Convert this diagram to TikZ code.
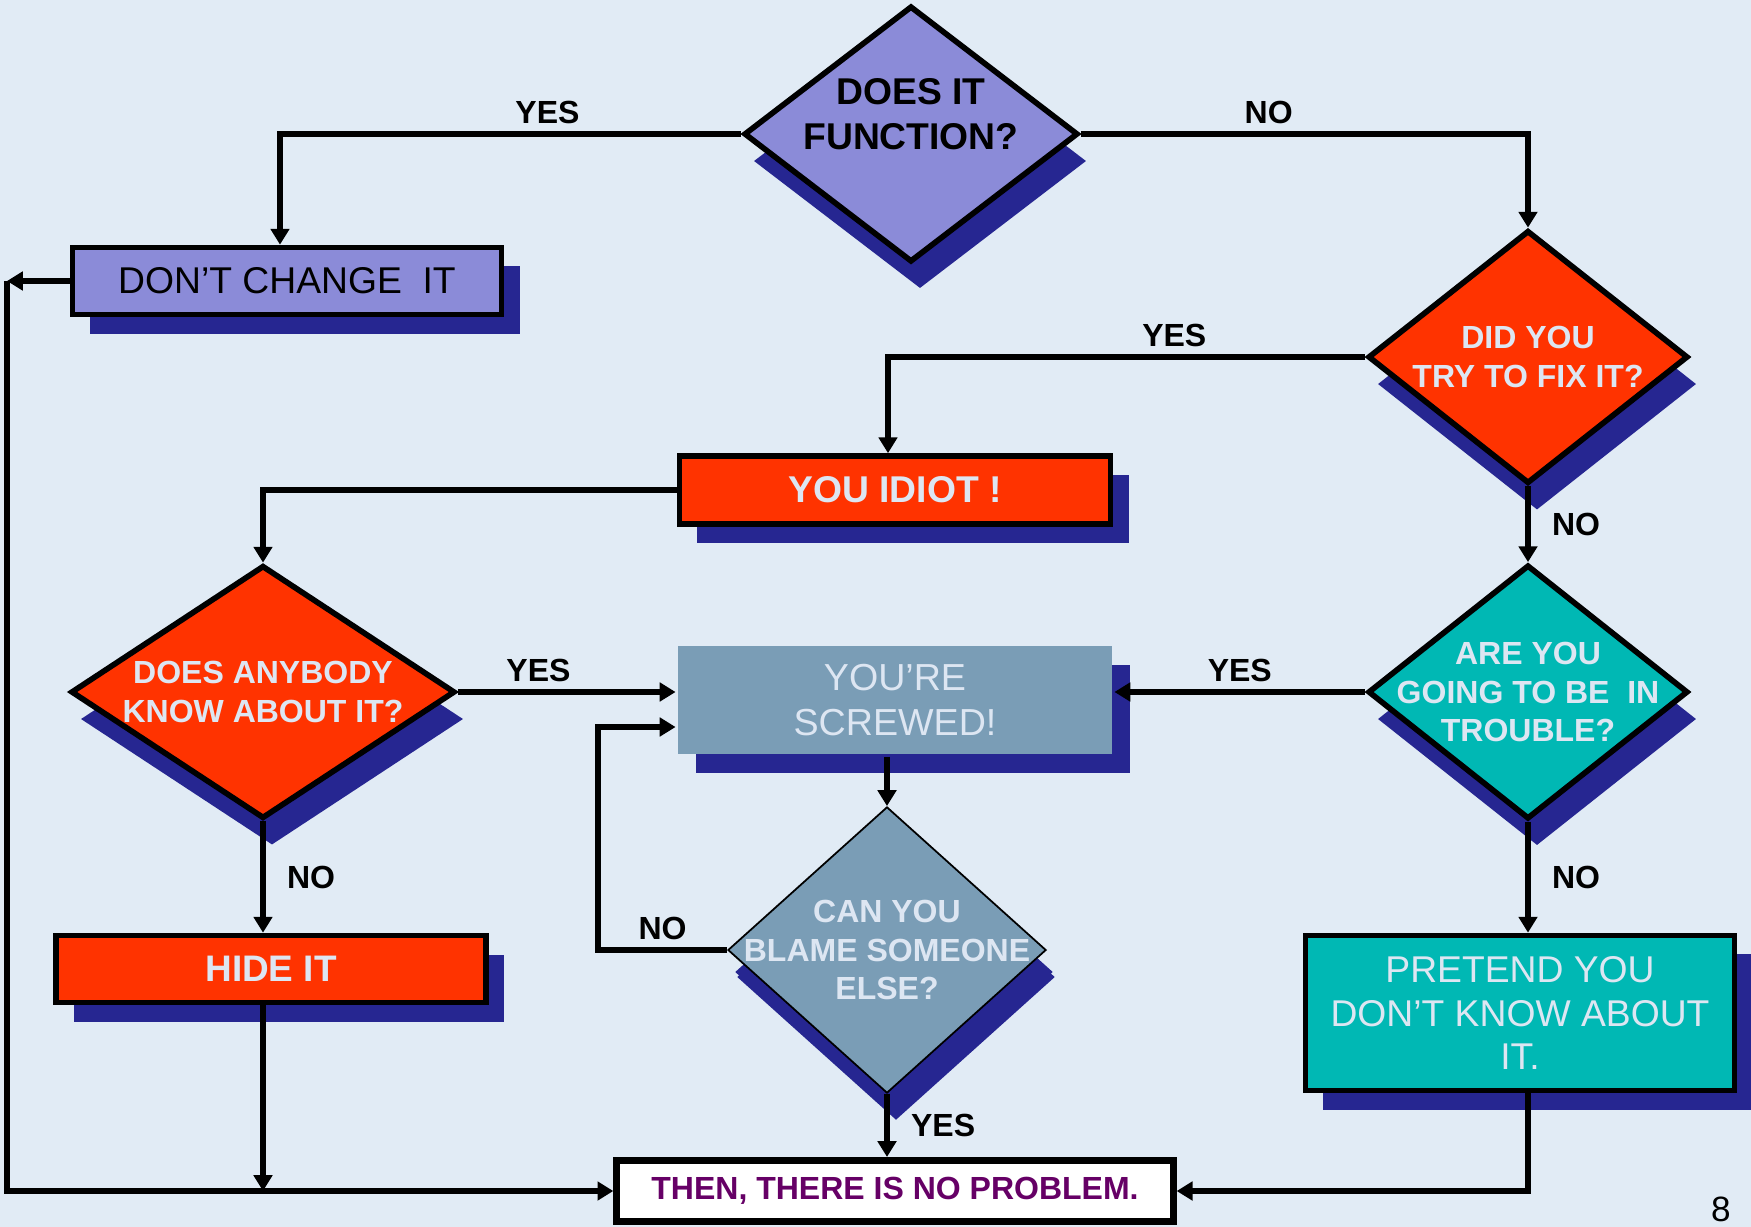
\documentclass[tikz,border=0pt]{standalone}
\usepackage{fontspec}
\setmainfont{Liberation Sans}
\usetikzlibrary{shapes.geometric,shadows,arrows.meta}

\definecolor{bgblue}{RGB}{225,235,245}
\definecolor{lilac}{RGB}{139,139,216}
\definecolor{navy}{RGB}{38,38,145}
\definecolor{hotred}{RGB}{255,51,0}
\definecolor{tealbox}{RGB}{0,184,180}
\definecolor{steel}{RGB}{122,157,182}
\definecolor{paletext}{RGB}{221,230,242}
\definecolor{plum}{RGB}{102,0,102}

\tikzset{
  conn/.style={line width=1.7pt, -{Triangle[length=4.5pt,width=5.2pt]}},
  boxshadow/.style={drop shadow={shadow xshift=0.18cm, shadow yshift=-0.19cm, fill=navy, opacity=1}},
  diashadow/.style={drop shadow={shadow xshift=0.09cm, shadow yshift=-0.27cm, fill=navy, opacity=1}},
  abox/.style={rectangle, draw=black, line width=1.6pt, inner sep=0pt, align=center, boxshadow},
  qdia/.style={diamond, draw=black, line width=1.6pt, inner sep=0pt, diashadow},
  dtext/.style={align=center, font=\fontsize{9.1}{11}\selectfont\bfseries, text=paletext, inner sep=0pt},
  lab/.style={font=\fontsize{9.1}{10}\selectfont\bfseries, inner sep=2pt},
}

\begin{document}
\begin{tikzpicture}[x=0.01cm, y=-0.01cm]
  \useasboundingbox (0,0) rectangle (1751,1227);
  \fill[bgblue] (0,0) rectangle (1751,1227);

  % the questions
  \node[qdia, fill=lilac, minimum width=3.34cm, minimum height=2.56cm,
        label={[dtext, text=black, yshift=0.2cm, font=\fontsize{10.6}{12.8}\selectfont\bfseries]center:DOES IT\\FUNCTION?}] (func) at (911,134) {};
  \node[qdia, fill=hotred, minimum width=3.2cm, minimum height=2.53cm,
        label={[dtext]center:DID YOU\\TRY TO FIX IT?}] (fix) at (1528,357) {};
  \node[qdia, fill=hotred, minimum width=3.84cm, minimum height=2.53cm,
        label={[dtext]center:DOES ANYBODY\\KNOW ABOUT IT?}] (anybody) at (263,692) {};
  \node[qdia, fill=tealbox, minimum width=3.2cm, minimum height=2.54cm,
        label={[dtext]center:ARE YOU\\GOING TO BE\ \ IN\\TROUBLE?}] (trouble) at (1528,692) {};
  \node[qdia, fill=steel, line width=0.5pt, minimum width=3.18cm, minimum height=2.86cm,
        drop shadow={shadow xshift=0.07cm, shadow yshift=-0.22cm, fill=navy, opacity=1},
        label={[dtext]center:CAN YOU\\BLAME SOMEONE\\ELSE?}] (blame) at (887,950) {};

  % the answers
  \node[abox, fill=lilac, minimum width=4.29cm, minimum height=0.67cm,
        font=\fontsize{10.6}{12.8}\selectfont] (dont) at (287,281) {DON’T CHANGE\ \ IT};
  \node[abox, fill=hotred, text=paletext, minimum width=4.31cm, minimum height=0.68cm,
        font=\fontsize{10.6}{12.8}\selectfont\bfseries] (idiot) at (895,490) {YOU IDIOT !};
  \node[abox, draw=none, fill=steel, text=paletext, minimum width=4.33cm, minimum height=1.08cm,
        font=\fontsize{10.7}{12.8}\selectfont] (screwed) at (895,700) {YOU’RE\\SCREWED!};
  \node[abox, fill=hotred, text=paletext, minimum width=4.3cm, minimum height=0.67cm,
        font=\fontsize{10.5}{12}\selectfont\bfseries] (hide) at (271,969) {HIDE IT};
  \node[abox, fill=tealbox, text=paletext, minimum width=4.29cm, minimum height=1.55cm,
        font=\fontsize{10.6}{12.5}\selectfont] (pretend) at (1520,1013) {PRETEND YOU\\DON’T KNOW ABOUT\\IT.};
  \node[rectangle, draw=black, line width=2pt, fill=white, text=plum, inner sep=0pt,
        minimum width=5.56cm, minimum height=0.61cm,
        font=\fontsize{9.1}{11}\selectfont\bfseries] (final) at (895,1191) {THEN, THERE IS NO PROBLEM.};

  \node (pagenum) at (1721,1209) {\fontsize{10}{12}\selectfont 8};

  % connectors
  \draw[conn] (func.west) -| node[lab, pos=0.21, above] {YES} ([xshift=-0.07cm]dont.north);
  \draw[conn] (func.east) -| node[lab, pos=0.21, above] {NO} (fix.north);
  \draw[conn] (fix.west) -| node[lab, pos=0.2, above] {YES} ([xshift=-0.07cm]idiot.north);
  \draw[conn] (idiot.west) -| (anybody.north);
  \draw[conn] (fix.south) -- node[lab, right=4pt] {NO} (trouble.north);
  \draw[conn] (anybody.east) -- node[lab, pos=0.37, above] {YES} (anybody.east -| screwed.west);
  \draw[conn] (trouble.west) -- node[lab, above] {YES} (trouble.west -| screwed.east);
  \draw[conn] (blame.north |- screwed.south) -- (blame.north);

  \coordinate (loop) at (598,727);
  \draw[conn] (blame.west) -| node[lab, pos=0.25, above] {NO} (loop) -- (loop -| screwed.west);

  \draw[conn] (blame.south) -- node[lab, right=4pt] {YES} (blame.south |- final.north);
  \draw[conn] (anybody.south) -- node[lab, right=4pt] {NO} (anybody.south |- hide.north);
  \draw[conn] (trouble.south) -- node[lab, right=4pt] {NO} (trouble.south |- pretend.north);
  \draw[conn] (trouble.south |- pretend.south) |- (final.east);

  % the long way round
  \coordinate (rail) at (7,281);
  \draw[conn] (dont.west) -- (rail);
  \draw[conn] (rail) |- (final.west);
  \draw[conn] (anybody.south |- hide.south) -- (anybody.south |- final.west);
\end{tikzpicture}
\end{document}
